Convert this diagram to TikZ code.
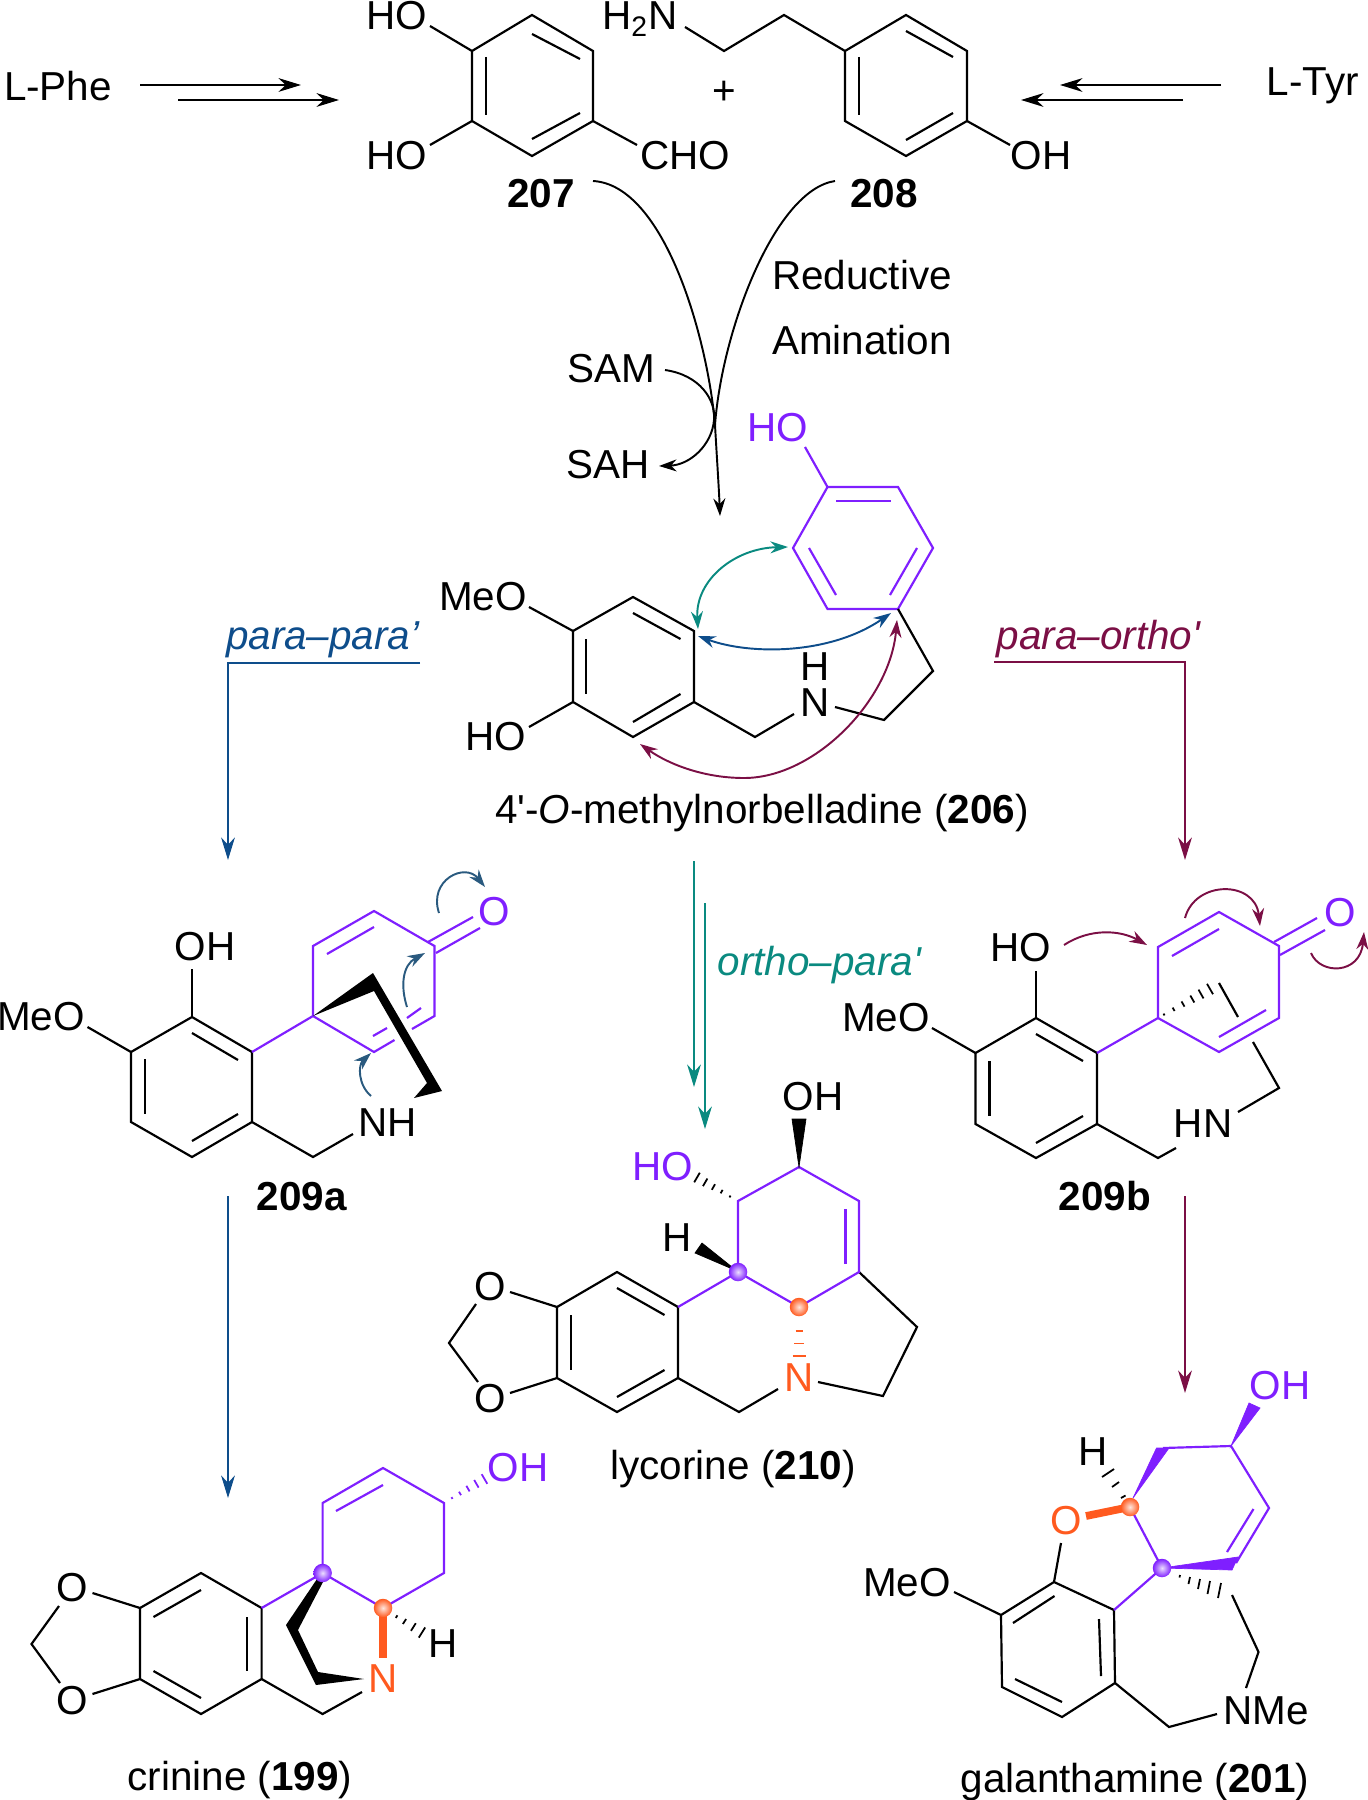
\documentclass[tikz,border=0pt]{standalone}
\usepackage{fontspec}
\setmainfont{Liberation Sans}
\usetikzlibrary{arrows.meta}
\definecolor{chemviolet}{HTML}{7F1FFF}
\definecolor{chemorange}{HTML}{FF5A1F}
\definecolor{routeblue}{HTML}{0E4D8B}
\definecolor{routeteal}{HTML}{0A8A80}
\definecolor{routemaroon}{HTML}{7B0F45}
\definecolor{pushblue}{HTML}{2A5A7F}
\begin{document}
\begin{tikzpicture}[x=0.01cm,y=-0.01cm,
  >={Stealth[length=6.4pt,width=3.9pt]}, %
  inner sep=0pt, outer sep=0pt,%
  every node/.style={font=\fontsize{11.5}{13}\selectfont},
  bond/.style={line width=.62pt,line join=miter},
  vbond/.style={bond,color=chemviolet},
  hash/.style={line width=.5pt,color=#1},
  wedge/.style={fill=#1,draw=#1,line width=.2pt},
  heavy/.style={line width=2.2pt,color=chemorange},
  route/.style={line width=.72pt,color=#1,->},
  curly/.style={line width=.55pt,color=#1,>={Stealth[length=5pt,width=3.4pt]}},
  atom ball/.style={circle,minimum size=18.5pt*0.2845,shading=radial,inner color=#1!15!white,outer color=#1}]

\useasboundingbox (0,0) rectangle (1368,1800);

\node (lphe) at (58,86) {L-Phe};
\node (ltyr) at (1313,86) {L-Tyr};
\node (plus) at (724,93) {+};
\coordinate (phe upper a) at (140,85);
\coordinate (phe upper b) at (301,85);
\coordinate (phe lower a) at (178,100);
\coordinate (phe lower b) at (339,100);
\coordinate (tyr upper a) at (1221,85);
\coordinate (tyr upper b) at (1060,85);
\coordinate (tyr lower a) at (1183,100);
\coordinate (tyr lower b) at (1021,100);
\draw[route=black] (phe upper a)--(phe upper b);
\draw[route=black] (phe lower a)--(phe lower b);
\draw[route=black] (tyr upper a)--(tyr upper b);
\draw[route=black] (tyr lower a)--(tyr lower b);

\node (ho top) at (397,16) {HO};
\node (ho low) at (397,156) {HO};
\node (cho) at (685,156) {CHO};
\node (n207) at (541,194) {\textbf{207}};
\draw[bond] (532,15)--(593,51)--(593,121)--(532,156)--(472,121)--(472,51)--cycle;
\draw[bond] (486,57)--(486,115);
\draw[bond] (532,34)--(580,59);
\draw[bond] (532,139)--(580,113);
\draw[bond] (430,26)--(472,51);
\draw[bond] (430,145)--(472,121);
\draw[bond] (593,121)--(637,145);

\node (h2n) at (640,19) {H\textsubscript{2}N};
\node (oh208) at (1041,156) {OH};
\node (n208) at (884,194) {\textbf{208}};
\draw[bond] (906,15)--(967,51)--(967,121)--(906,156)--(845,121)--(845,51)--cycle;
\draw[bond] (859,57)--(859,115);
\draw[bond] (906,31)--(953,57);
\draw[bond] (906,140)--(953,113);
\draw[bond] (845,51)--(784,15)--(724,51)--(685,27);
\draw[bond] (967,121)--(1010,145);

\node (reductive) at (862,275) {Reductive};
\node (amination) at (862,340) {Amination};
\node (sam) at (611,369) {SAM};
\node (sah) at (608,465) {SAH};
\coordinate (left start) at (593,181);
\coordinate (right start) at (835,181);
\coordinate (stem) at (715,425);
\coordinate (stem end) at (720,516);
\coordinate (sam start) at (665,370);
\coordinate (sah end) at (659,466);
\draw[curly=black] (left start) .. controls (665,185) and (708,340) .. (stem);
\draw[curly=black] (right start) .. controls (775,190) and (722,330) .. (stem);
\draw[curly=black,->] (stem) .. controls (717,460) and (719,490) .. (stem end);
\draw[curly=black,->] (sam start) .. controls (700,375) and (716,400) .. (714,420) .. controls (712,445) and (690,465) .. (sah end);

\node[text=chemviolet] (ho206) at (778,428) {HO};
\node (meo206) at (483,597) {MeO};
\node (ho206b) at (496,737) {HO};
\node (n206) at (815,703) {N};
\node (h206) at (815,667) {H};
\node (name206) at (762,813) {4\textquotesingle-\textit{O}-methylnorbelladine (\textbf{206})};
\draw[vbond] (827.5,487)--(898,487)--(933,548)--(898,609)--(827.5,609)--(793,548)--cycle;
\draw[vbond] (836,501)--(891,501);
\draw[vbond] (809,548)--(836,595);
\draw[vbond] (917,548)--(890,595);
\draw[vbond] (805,447)--(827.5,487);
\draw[bond] (633,597)--(694,631)--(694,702)--(633,737)--(573,702)--(573,631)--cycle;
\draw[bond] (586,639)--(586,694);
\draw[bond] (633,613)--(680.5,639);
\draw[bond] (633,722)--(680.5,694);
\draw[bond] (529,607)--(573,631);
\draw[bond] (529,727)--(573,702);
\draw[bond] (694,702)--(755,737)--(794,714);
\draw[bond] (835,707)--(884,720)--(933,671)--(898,609);
\coordinate (ring a) at (698,629);
\coordinate (ring b) at (788,547);
\coordinate (ring c) at (698,636);
\coordinate (ring d) at (891,613);
\coordinate (ring e) at (897,620);
\coordinate (ring f) at (640,744);
\draw[curly=routeteal,<->] (ring a) .. controls (695,580) and (735,548) .. (ring b);
\draw[curly=routeblue,<->] (ring c) .. controls (750,655) and (830,655) .. (ring d);
\draw[curly=routemaroon,<->] (ring e) .. controls (890,700) and (815,778) .. (744,778) .. controls (705,778) and (670,765) .. (ring f);

\node[text=routeblue] (parapara) at (323,640) {\textit{para–para’}};
\node[text=routemaroon] (paraortho) at (1099,639) {\textit{para–ortho\textquotesingle}};
\node[text=routeteal] (orthopara) at (820,965) {\textit{ortho–para\textquotesingle}};
\coordinate (blue a) at (420,663);
\coordinate (blue b) at (228,663);
\coordinate (blue c) at (228,860);
\coordinate (maroon a) at (994,662);
\coordinate (maroon b) at (1185,662);
\coordinate (maroon c) at (1185,860);
\coordinate (teal a) at (694,861);
\coordinate (teal b) at (694,1087);
\coordinate (teal c) at (705,903);
\coordinate (teal d) at (705,1129);
\coordinate (blue d) at (228,1196);
\coordinate (blue e) at (228,1498);
\coordinate (maroon d) at (1185,1196);
\coordinate (maroon e) at (1185,1393);
\draw[route=routeblue] (blue a)--(blue b)--(blue c);
\draw[route=routemaroon] (maroon a)--(maroon b)--(maroon c);
\draw[route=routeteal] (teal a)--(teal b);
\draw[route=routeteal] (teal c)--(teal d);
\draw[route=routeblue] (blue d)--(blue e);
\draw[route=routemaroon] (maroon d)--(maroon e);

\node (oh209a) at (205,947) {OH};
\node (meo209a) at (41,1017) {MeO};
\node (nh209a) at (388,1123) {NH};
\node[text=chemviolet] (o209a) at (494.5,912) {O};
\node (n209a) at (302,1197) {\textbf{209a}};
\draw[bond] (192,1017)--(252,1052)--(252,1122)--(192,1157)--(131,1122)--(131,1052)--cycle;
\draw[bond] (145,1059)--(145,1114);
\draw[bond] (192,1033)--(238,1060);
\draw[bond] (192,1141)--(238,1114);
\draw[bond] (192,969)--(192,1017);
\draw[bond] (87.5,1027)--(131,1052);
\draw[bond] (252,1122)--(313,1157)--(353,1134);
\draw[vbond] (252,1052)--(313,1016);
\draw[vbond] (394.5,1040)--(374,1052)--(313,1016)--(313,946)--(374,911)--(434.5,946)--(434.5,1016)--(412,1029);
\draw[vbond] (327,954)--(374,927);
\draw[vbond] (373,1036)--(387,1028);
\draw[vbond] (407,1018)--(421,1008);
\draw[vbond] (428,942)--(473,917);
\draw[vbond] (436,953)--(480,928);
\fill[black] (313,1016)--(373,973)--(442,1091)--(414,1098)--(427,1083)--(374,991)--cycle;
\draw[curly=pushblue,->] (439,913) .. controls (428,880) and (465,862) .. (485,887);
\draw[curly=pushblue,->] (407,1007) .. controls (400,985) and (403,965) .. (425,953);
\draw[curly=pushblue,->] (371,1096) .. controls (358,1085) and (358,1065) .. (371,1053);

\node (ho209b) at (1021,948) {HO};
\node (meo209b) at (886,1018) {MeO};
\node (hn209b) at (1203,1124) {HN};
\node[text=chemviolet] (o209b) at (1340,913) {O};
\node (n209b) at (1105,1196) {\textbf{209b}};
\draw[bond] (1036,1018)--(1097,1053)--(1097,1124)--(1036,1158)--(975.5,1124)--(975.5,1053)--cycle;
\draw[bond] (989.5,1061)--(989.5,1116);
\draw[bond] (1036,1034)--(1083,1061);
\draw[bond] (1036,1143)--(1083,1116);
\draw[bond] (1036,971)--(1036,1018);
\draw[bond] (932,1028)--(975.5,1053);
\draw[bond] (1097,1124)--(1158,1158)--(1176,1148);
\draw[bond] (1238,1112)--(1279,1088)--(1253,1042);
\draw[bond] (1219,983)--(1238,1017);
\draw[vbond] (1097,1053)--(1158,1018);
\draw[vbond] (1158,1018)--(1158,947)--(1219,912)--(1279,946)--(1279,1018)--(1219,1052)--cycle;
\draw[vbond] (1172,956)--(1219,929);
\draw[vbond] (1219,1037)--(1266,1010);
\draw[vbond] (1274,942)--(1317,918);
\draw[vbond] (1280,955)--(1325,930);
\draw[hash=black] (1163.5,1013.6)--(1164.5,1015.4) (1172.6,1007.6)--(1174.6,1011) (1181.5,1001.4)--(1184.5,1006.6) (1190.3,995.5)--(1194.3,1002.5) (1198.5,989.6)--(1203.5,998.4) (1207,983.8)--(1213,994.2);
\draw[curly=routemaroon,->] (1064,945) .. controls (1090,928) and (1120,930) .. (1147,945);
\draw[curly=routemaroon,->] (1185,918) .. controls (1195,880) and (1255,880) .. (1260,926);
\draw[curly=routemaroon,->] (1311,953) .. controls (1320,975) and (1360,975) .. (1364,932);

\node (oh210) at (813,1097) {OH};
\node[text=chemviolet] (ho210) at (663,1167) {HO};
\node (h210) at (677,1238) {H};
\node (o210a) at (490,1287) {O};
\node (o210b) at (490,1399) {O};
\node[text=chemorange] (n210) at (799,1378) {N};
\node (name210) at (733,1469) {lycorine (\textbf{210})};
\draw[bond] (617,1272)--(678,1307)--(678,1378)--(617,1412)--(557,1378)--(557,1307)--cycle;
\draw[bond] (571,1315)--(571,1370);
\draw[bond] (617,1288)--(664.5,1315);
\draw[bond] (617,1397)--(664.5,1370);
\draw[bond] (510,1292)--(557,1307);
\draw[bond] (510,1393)--(557,1378);
\draw[bond] (476,1304)--(449,1343)--(478,1382);
\draw[bond] (678,1378)--(739,1412)--(778,1389);
\draw[bond] (818,1382)--(883,1396)--(917,1327)--(859,1272);
\draw[vbond] (678,1307)--(738,1272);
\draw[vbond] (738,1272)--(738,1201)--(799,1167)--(859,1201)--(859,1272)--(799,1307)--cycle;
\draw[vbond] (845.5,1209)--(845.5,1264);
\fill[wedge=black] (799,1167)--(792,1119)--(806,1119)--cycle;
\fill[wedge=black] (737,1271)--(702,1243)--(695,1253)--cycle;
\draw[hash=black] (730.5,1195.6)--(729.5,1197.4) (722.6,1189.9)--(720.6,1193.3) (715,1184.2)--(711.8,1189.8) (707.4,1178.5)--(703,1186.1) (699.8,1172.7)--(694.2,1182.3);
\draw[hash=chemorange] (795.5,1331)--(802.5,1331) (794,1343.5)--(804,1343.5) (792.5,1356)--(806,1356);
\node[atom ball=chemviolet] (ball210a) at (738,1272) {};
\node[atom ball=chemorange] (ball210b) at (799,1307) {};

\node[text=chemviolet] (oh199) at (518,1468) {OH};
\node (h199) at (443,1644) {H};
\node (o199a) at (72,1588) {O};
\node (o199b) at (72,1701) {O};
\node[text=chemorange] (n199) at (383,1679) {N};
\node (name199) at (240,1780) {crinine (\textbf{199})};
\draw[bond] (201,1573)--(261.6,1608)--(261.6,1679)--(201,1714)--(140,1679)--(140,1608)--cycle;
\draw[bond] (153.5,1617)--(201,1590);
\draw[bond] (247,1617)--(247,1671);
\draw[bond] (153.5,1671)--(201,1698);
\draw[bond] (92.5,1593)--(140,1608);
\draw[bond] (92.5,1694)--(140,1679);
\draw[bond] (59,1606)--(31.5,1644)--(60,1683);
\draw[bond] (261.6,1679)--(322.6,1714)--(362,1692);
\draw[vbond] (261.6,1608)--(322.6,1573);
\draw[vbond] (322.6,1573)--(322.6,1503)--(383,1468)--(444,1503)--(444,1573)--(383,1608)--cycle;
\draw[vbond] (336,1511)--(383,1485);
\fill[black] (317,1579)--(323,1582)--(298,1630)--(318,1672)--(364,1679)--(316,1685)--(286,1625)--cycle;
\draw[hash=chemviolet] (451.5,1497.1)--(452.5,1498.9) (459,1491.7)--(461,1495.1) (466.4,1485.8)--(469.6,1491.4) (474.2,1480)--(478.6,1487.6) (481.7,1474.2)--(487.3,1483.8);
\draw[hash=black] (397.4,1615.3)--(395.8,1617.9) (406.1,1619)--(402.9,1624) (415.8,1623.2)--(411,1630.8) (425.2,1627.4)--(418.8,1637.6);
\draw[heavy] (383,1608)--(383,1658);
\node[atom ball=chemviolet] (ball199a) at (322.6,1573) {};
\node[atom ball=chemorange] (ball199b) at (383,1608) {};

\node[text=chemviolet] (oh201) at (1280,1386) {OH};
\node (h201) at (1093,1452) {H};
\node[text=chemorange] (o201) at (1066,1521) {O};
\node (meo201) at (907,1583) {MeO};
\node (nme201) at (1266,1711) {NMe};
\node (name201) at (1135,1782) {galanthamine (\textbf{201})};
\draw[bond] (1054,1582)--(1114,1610)--(1115,1683)--(1062,1717)--(1002,1687)--(1001,1615)--cycle;
\draw[bond] (1013,1623)--(1054.5,1596);
\draw[bond] (1099,1619)--(1101,1676);
\draw[bond] (1015,1679)--(1062,1702);
\draw[bond] (954,1592)--(1001,1615);
\draw[bond] (1061,1543)--(1054,1582);
\draw[bond] (1115,1683)--(1169,1727)--(1217,1714);
\draw[bond] (1232,1595)--(1258.5,1652)--(1246,1688);
\draw[vbond] (1114,1610)--(1162,1568);
\draw[vbond] (1130,1507)--(1162,1568);
\draw[vbond] (1163,1448)--(1231,1446)--(1269,1508)--(1236,1563);
\draw[vbond] (1253.5,1509)--(1227,1552);
\fill[wedge=chemviolet] (1133,1498)--(1156.5,1448)--(1169,1448)--cycle;
\fill[wedge=chemviolet] (1231,1446)--(1249,1403)--(1260,1408)--cycle;
\fill[wedge=chemviolet] (1162,1568)--(1238,1557)--(1232,1570)--cycle;
\draw[hash=black] (1125.5,1495.5)--(1121,1498) (1119,1482)--(1112,1487) (1114,1469)--(1102,1477);
\draw[hash=black] (1180,1575)--(1179.5,1577.5) (1190,1577)--(1188.5,1584) (1200,1579)--(1198,1589) (1210,1581)--(1207.5,1594) (1221,1583)--(1218,1598);
\draw[heavy] (1130,1507)--(1086,1516);
\node[atom ball=chemviolet] (ball201a) at (1162,1568) {};
\node[atom ball=chemorange] (ball201b) at (1130,1507) {};

\end{tikzpicture}
\end{document}
